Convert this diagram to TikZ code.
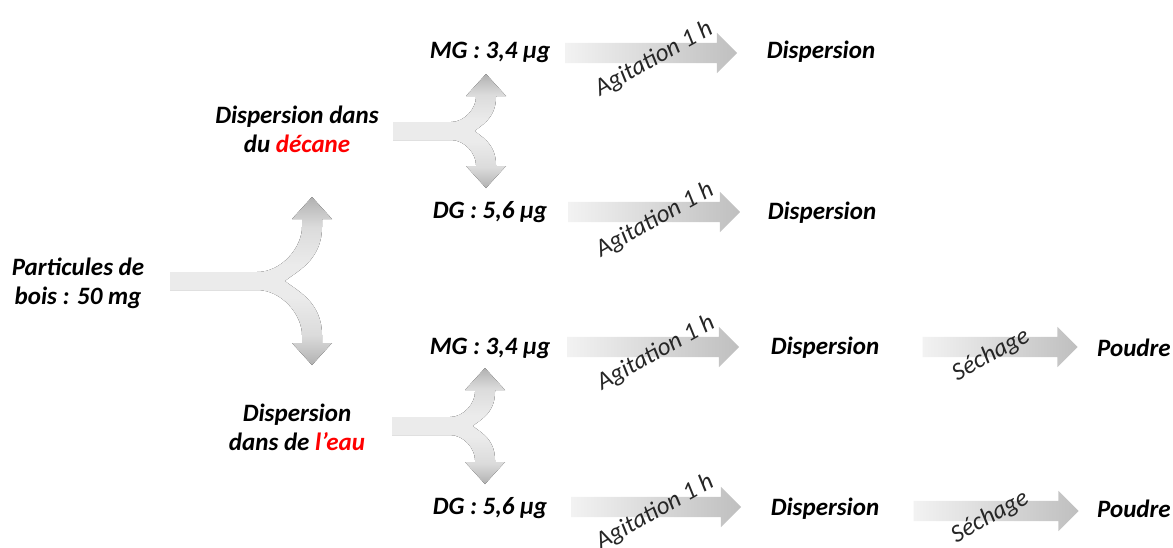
\documentclass[tikz,border=0pt]{standalone}
\usepackage{fontspec}
\setmainfont{Carlito}
\usetikzlibrary{shapes.arrows,positioning,calc}

% light along the middle, darker towards both tips
\pgfdeclareverticalshading{forkshade}{100bp}{color(0bp)=(gray!62); color(25bp)=(gray!62);
  color(29bp)=(gray!46); color(34bp)=(gray!28); color(45bp)=(gray!16); color(55bp)=(gray!16);
  color(66bp)=(gray!28); color(71bp)=(gray!46); color(75bp)=(gray!62); color(100bp)=(gray!62)}

% fork arrow: #1 start x, #2 centre y, #3 shaft x, #4 tip offset, #5 bend radius, #6 notch offset
\newcommand{\forkarrow}[6]{%
  \fill[forkfill]
    (#1,#2-9) -- (#3-10-#5,#2-9)
    .. controls (#3-10-0.45*#5,#2-9) and (#3-10,#2-9-0.55*#5) .. (#3-10,#2-9-#5)
    -- (#3-10,#2-#4+22) -- (#3-20,#2-#4+22) -- (#3,#2-#4) -- (#3+20,#2-#4+22)
    -- (#3+10,#2-#4+22) -- (#3+10,#2-9-#5)
    .. controls (#3+10,#2-0.45*#5) and (#3-#6+0.4*#6,#2-0.2*#5) .. (#3-#6,#2)
    .. controls (#3-#6+0.4*#6,#2+0.2*#5) and (#3+10,#2+0.45*#5) .. (#3+10,#2+9+#5)
    -- (#3+10,#2+#4-22) -- (#3+20,#2+#4-22) -- (#3,#2+#4) -- (#3-20,#2+#4-22)
    -- (#3-10,#2+#4-22) -- (#3-10,#2+9+#5)
    .. controls (#3-10,#2+9+0.55*#5) and (#3-10-0.45*#5,#2+9) .. (#3-10-#5,#2+9)
    -- (#1,#2+9) -- cycle;}

\begin{document}
\begin{tikzpicture}[
    x=1pt, y=-1pt,
    label/.style={font=\bfseries\itshape\fontsize{25}{29}\selectfont, align=center, inner sep=0pt},
    tag/.style={font=\itshape\fontsize{25}{25}\selectfont, text=black!85, inner sep=0pt, rotate=29},
    forkfill/.style={shading=forkshade},
    flow/.style={single arrow, draw=none, inner sep=10pt,
        single arrow head extend=10pt, single arrow head indent=0pt,
        left color=gray!10, right color=gray!50}
]
    \useasboundingbox (0,0) rectangle (1173,547);

    % texts
    \node[label] (wood) at (78,283) {Particules de\\bois : 50 mg};
    \node[label] (dec) at (297,129) {Dispersion dans\\du \textcolor{red}{décane}};
    \node[label] (eau) at (297,427) {Dispersion\\dans de \textcolor{red}{l’eau}};

    \node[label] (mg1) at (490,52) {MG : 3,4 µg};
    \node[label] (dg1) at (490,212) {DG : 5,6 µg};
    \node[label] (mg2) at (490,348) {MG : 3,4 µg};
    \node[label] (dg2) at (490,508) {DG : 5,6 µg};

    \node[label] (disp1) at (821,52) {Dispersion};
    \node[label] (disp2) at (822,213) {Dispersion};
    \node[label] (disp3) at (825,348) {Dispersion};
    \node[label] (disp4) at (825,509) {Dispersion};

    \node[label] (pow1) at (1134,348) {Poudre};
    \node[label] (pow2) at (1134,509) {Poudre};

    % fork arrows
    \forkarrow{170}{281}{312}{84}{45}{27}
    \forkarrow{393}{131}{486}{57}{25}{11}
    \forkarrow{392}{426}{485}{58}{25}{12}

    % straight arrows
    \node[flow, minimum height=172pt] (ag1) at (646,53) {};
    \node[flow, minimum height=172pt] (ag2) at (649,212) {};
    \node[flow, minimum height=172pt] (ag3) at (648,347) {};
    \node[flow, minimum height=170pt] (ag4) at (651,507) {};
    \node[flow, minimum height=155pt] (dry1) at (995,347) {};
    \node[flow, minimum height=165pt] (dry2) at (991,511) {};

    \node[tag] (t1) at ($(ag1)+(8,6)$) {Agitation 1 h};
    \node[tag] (t2) at ($(ag2)+(6,8)$) {Agitation 1 h};
    \node[tag] (t3) at ($(ag3)+(8,6)$) {Agitation 1 h};
    \node[tag] (t4) at ($(ag4)+(4,5)$) {Agitation 1 h};
    \node[tag] (t5) at ($(dry1)+(-4,8)$) {Séchage};
    \node[tag] (t6) at ($(dry2)+(-1,6)$) {Séchage};
\end{tikzpicture}
\end{document}
